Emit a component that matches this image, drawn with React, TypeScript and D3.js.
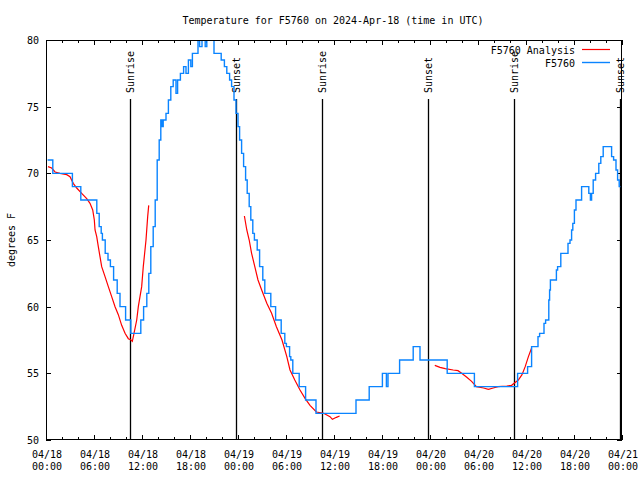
import React from "react";
import * as d3 from "d3";

// hours since 2024-04-18 00:00 UTC
const blueHours = [0.2,0.85,3.3,4.35,6.35,6.65,6.9,7.05,7.4,7.75,8.05,8.45,8.9,9.25,9.95,10.6,11.85,12.2,12.6,12.85,13.1,13.4,13.65,13.9,14.15,14.35,14.5,14.65,15.0,15.3,15.6,15.9,16.25,16.45,16.8,17.2,17.5,17.8,18.1,18.3,18.7,19.0,19.2,19.5,19.9,20.1,21.0,21.3,21.9,22.3,22.6,22.95,23.2,23.5,23.75,24.0,24.2,24.45,24.7,24.95,25.15,25.4,25.6,25.85,26.05,26.4,26.7,27.1,27.35,28.1,28.7,29.4,29.85,30.05,30.45,30.6,30.85,31.65,32.45,33.75,38.75,40.4,42.05,42.55,42.75,44.2,45.9,46.75,50.15,53.55,58.95,60.2,60.7,61.5,61.7,62.25,62.45,62.85,62.95,63.05,63.8,63.95,64.35,65.25,65.5,65.7,65.85,66.05,66.25,66.95,67.85,68.05,68.2,68.4,68.7,69.1,69.35,69.65,70.7,70.95,71.25,71.45,71.65,71.8];
const blueTemps = [71,70,69,68,67,66,65.5,65,64,63.5,63,62,61,60,59,58,59,60,61,62.5,64.5,66,68,71,72.5,74,73.5,74,74.5,75.5,76.5,77,76,77,77.5,78,77.5,78.5,78,79,79,81,79.5,81,79.5,81,79,79,78.5,78,77.5,77,76.5,75.5,74.5,73.5,72.5,71.5,70.5,69.5,68.5,67.5,66.5,65.5,65,64.25,63,62,61,60,59,58,57.25,57,56.25,56,55,54,53,52,53,54,55,54,55,56,57,56,55,54,55,55.5,57,57.75,58,58.75,59,60.5,61.25,62,62.75,63,64,64.75,65,65.75,66.25,67.25,68,69,68.5,68,68.5,69.5,70,70.75,71.25,72,71.25,71,70.25,69.5,69,69];

const red1Hours = [0.25,0.71,1.13,1.75,2.59,3,3.41,3.84,4.46,5.09,5.5,5.84,6.04,6.13,6.34,6.54,6.75,6.96,7.38,7.79,8.21,8.63,9.04,9.46,9.88,10.29,10.63,10.79,11,11.34,11.54,11.96,12.16,12.5,12.71,12.84];
const red1Temps = [70.5,70.4,70.1,70,69.9,69.75,69.25,68.9,68.5,68.1,67.75,67.25,66.5,65.75,65.25,64.5,63.75,63,62.25,61.5,60.75,60,59.4,58.6,58,57.6,57.5,57.4,58,59,60,61.5,63,65,66.75,67.6];
const red2Hours = [24.8,25.1,25.4,25.7,26.1,26.5,26.96,27.6,28.2,28.8,29.5,30.1,30.5,31.1,31.75,32.4,33,33.8,34.7,35.5,35.8,36.3,36.7];
const red2Temps = [66.8,65.75,65,64,63,62,61.25,60.25,59.5,58.5,57.5,56.25,55.25,54.5,53.75,53.1,52.6,52.1,52,51.75,51.55,51.7,51.8];
const red3Hours = [48.6,49.25,49.9,50.9,51.5,51.96,52.6,53.2,53.8,54.7,55.3,55.9,56.5,57.6,58.2,58.6,59.04,59.5,59.9,60.3,60.7];
const red3Temps = [55.6,55.45,55.35,55.25,55.2,55,54.7,54.4,54,53.9,53.8,53.9,54,54.05,54.1,54.3,54.5,54.9,55.5,56.25,56.9];

const sunEventHours = [10.5,23.75,34.5,47.75,58.5,71.75];
const sunEventLabels = ["Sunrise","Sunset","Sunrise","Sunset","Sunrise","Sunset"];

const xTickHours = [0,6,12,18,24,30,36,42,48,54,60,66,72];
const xTickDates = ["04/18","04/18","04/18","04/18","04/19","04/19","04/19","04/19","04/20","04/20","04/20","04/20","04/21"];
const xTickTimes = ["00:00","06:00","12:00","18:00","00:00","06:00","12:00","18:00","00:00","06:00","12:00","18:00","00:00"];
const yTicks = [50,55,60,65,70,75,80];

const title = "Temperature for F5760 on 2024-Apr-18 (time in UTC)";
const seriesNames = ["F5760 Analysis", "F5760"];

const W = 640, H = 480;
const L = 46, R = 622, T = 40, B = 440;
const FONT = "'DejaVu Sans Mono', monospace";
const BLUE = "#0a84ff";
const RED = "#ff0000";

export default function App() {
  const x = d3.scaleLinear().domain([0, 72]).range([L, R]);
  const y = d3.scaleLinear().domain([50, 80]).range([B, T]);

  const stepLine = d3.line<[number, number]>().x(d => x(d[0])).y(d => y(d[1])).curve(d3.curveStepAfter);
  const lin = d3.line<[number, number]>().x(d => x(d[0])).y(d => y(d[1]));

  const blue: [number, number][] = blueHours.map((h, i) => [h, blueTemps[i]]);
  const reds: [number, number][][] = [
    red1Hours.map((h, i) => [h, red1Temps[i]] as [number, number]),
    red2Hours.map((h, i) => [h, red2Temps[i]] as [number, number]),
    red3Hours.map((h, i) => [h, red3Temps[i]] as [number, number]),
  ];

  const minorX = d3.range(0, 73, 2);

  return (
    <svg width={W} height={H} style={{ position: "absolute", left: 0, top: 0, background: "#fff" }} fontFamily={FONT} fontSize={10}>
      <defs>
        <clipPath id="plotclip"><rect x={L} y={T} width={R - L} height={B - T} /></clipPath>
      </defs>
      <rect x={0} y={0} width={W} height={H} fill="#fff" />
      <text x={333} y={24} textAnchor="middle">{title}</text>

      {/* ticks */}
      {minorX.map(h => {
        const len = h % 6 === 0 ? 5 : 3;
        return (
          <g key={"xt" + h} stroke="#000" strokeWidth={1}>
            <line x1={Math.round(x(h)) + 0.5} x2={Math.round(x(h)) + 0.5} y1={B} y2={B - len} />
            <line x1={Math.round(x(h)) + 0.5} x2={Math.round(x(h)) + 0.5} y1={T} y2={T + len} />
          </g>
        );
      })}
      {yTicks.map(v => (
        <g key={"yt" + v} stroke="#000" strokeWidth={1}>
          <line x1={L} x2={L + 5} y1={Math.round(y(v)) + 0.5} y2={Math.round(y(v)) + 0.5} />
          <line x1={R} x2={R - 5} y1={Math.round(y(v)) + 0.5} y2={Math.round(y(v)) + 0.5} />
        </g>
      ))}
      {yTicks.map(v => (
        <text key={"yl" + v} x={39} y={y(v) + 4} textAnchor="end">{v}</text>
      ))}
      {xTickHours.map((h, i) => (
        <g key={"xl" + h}>
          <text x={x(h) + 1} y={458} textAnchor="middle">{xTickDates[i]}</text>
          <text x={x(h) + 1} y={470} textAnchor="middle">{xTickTimes[i]}</text>
        </g>
      ))}
      <text transform={`translate(15,240) rotate(-90)`} textAnchor="middle">degrees F</text>

      {/* sunrise / sunset */}
      {sunEventHours.map((h, i) => (
        <g key={"sun" + i}>
          <line x1={Math.round(x(h)) + 0.5} x2={Math.round(x(h)) + 0.5} y1={99} y2={B} stroke="#000" strokeWidth={1.3} />
          <text transform={`translate(${x(h) + 4},93) rotate(-90)`} textAnchor="start">{sunEventLabels[i]}</text>
        </g>
      ))}

      {/* data */}
      <g clipPath="url(#plotclip)" fill="none">
        {reds.map((seg, i) => (
          <path key={"r" + i} d={lin(seg) || ""} stroke={RED} strokeWidth={1.2} />
        ))}
        <path d={stepLine(blue) || ""} stroke={BLUE} strokeWidth={1.4} />
      </g>

      {/* border */}
      <rect x={L + 0.5} y={T + 0.5} width={R - L - 1} height={B - T - 1} fill="none" stroke="#000" strokeWidth={1} />

      {/* legend */}
      <text x={575} y={54} textAnchor="end">{seriesNames[0]}</text>
      <line x1={582} x2={610} y1={49.5} y2={49.5} stroke={RED} strokeWidth={1.2} />
      <text x={575} y={67} textAnchor="end">{seriesNames[1]}</text>
      <line x1={582} x2={610} y1={62.5} y2={62.5} stroke={BLUE} strokeWidth={1.4} />
    </svg>
  );
}
